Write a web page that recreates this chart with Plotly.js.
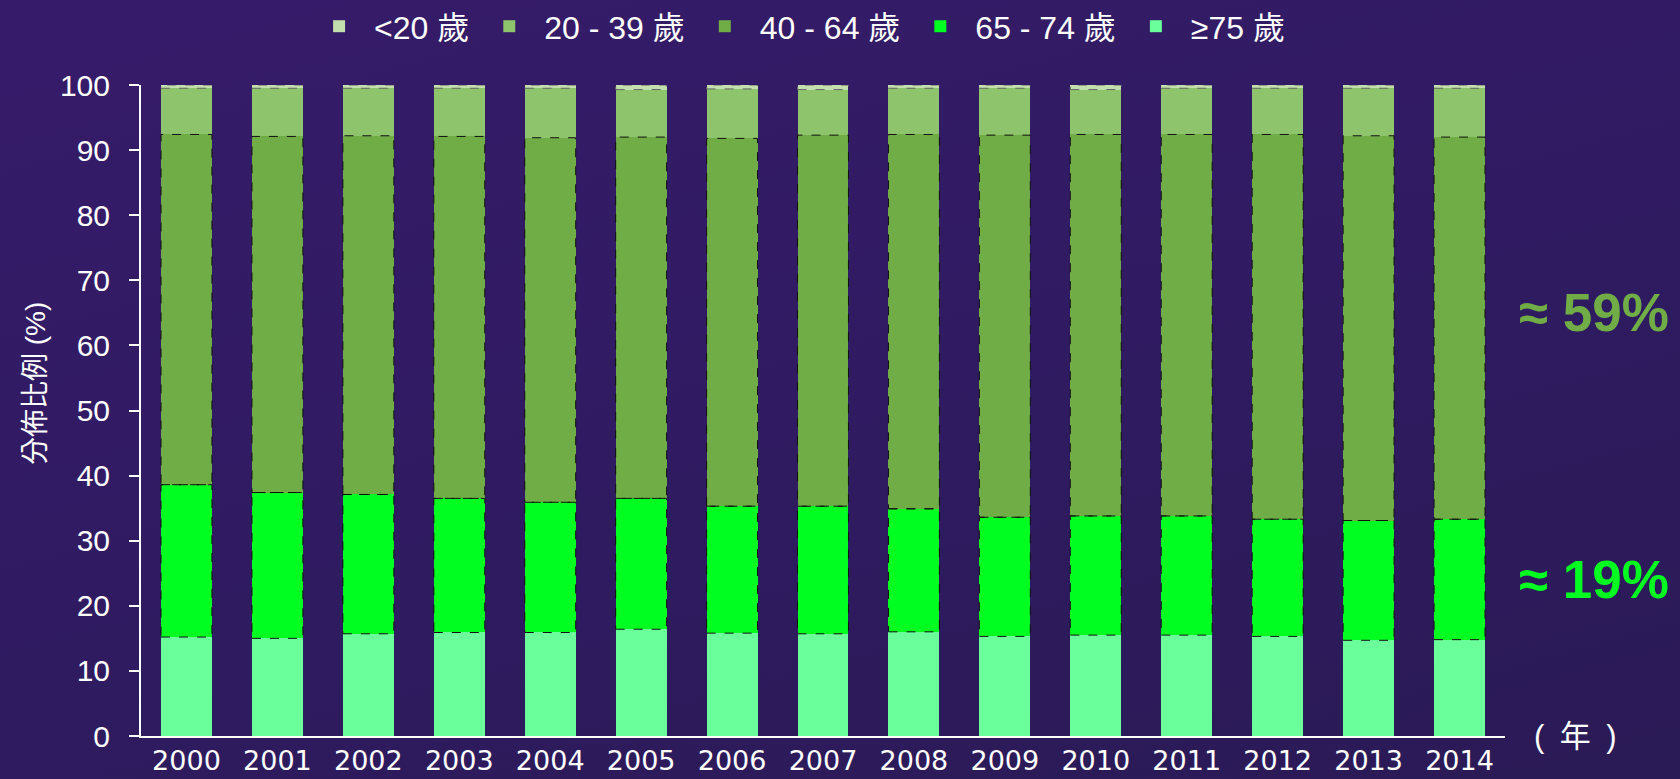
<!DOCTYPE html>
<html>
<head>
<meta charset="utf-8">
<script src="https://cdn.plot.ly/plotly-3.0.1.min.js"></script>
<style>
  html, body { margin: 0; padding: 0; width: 1680px; height: 779px; overflow: hidden;
    background: linear-gradient(165deg, #361b6a 0%, #301b62 50%, #2a1a55 100%); }
  #chart { width: 1680px; height: 779px; }
</style>
</head>
<body>
<div id="chart"></div>
<script>
// ---- data ----
const years = [2000, 2001, 2002, 2003, 2004, 2005, 2006, 2007, 2008, 2009, 2010, 2011, 2012, 2013, 2014];
const yearLabels = ["2000","2001","2002","2003","2004","2005","2006","2007","2008","2009","2010","2011","2012","2013","2014"];
const age75plus = [15.2, 15.0, 15.7, 15.9, 15.9, 16.4, 15.8, 15.7, 16.0, 15.3, 15.5, 15.5, 15.3, 14.7, 14.8];
const age65to74 = [23.4, 22.4, 21.4, 20.6, 20.0, 20.1, 19.5, 19.6, 18.9, 18.3, 18.3, 18.3, 18.0, 18.4, 18.5];
const age40to64 = [53.8, 54.7, 55.1, 55.6, 56.0, 55.5, 56.5, 57.0, 57.5, 58.7, 58.6, 58.6, 59.1, 59.1, 58.7];
const age20to39 = [7.1, 7.4, 7.3, 7.4, 7.6, 7.3, 7.6, 7.0, 7.1, 7.2, 6.9, 7.1, 7.1, 7.3, 7.5];
const under20   = [0.5, 0.5, 0.5, 0.5, 0.5, 0.7, 0.6, 0.7, 0.5, 0.5, 0.7, 0.5, 0.5, 0.5, 0.5];
const seriesNames = ["≥75 歲", "65 - 74 歲", "40 - 64 歲", "20 - 39 歲", "<20 歲"];
const noteTexts = ["≈ 59%", "≈ 19%"];

// ---- styling ----
const FONT = "'Liberation Sans', Arial, 'Noto Sans CJK TC', sans-serif";
const XFONT = "'DejaVu Sans', 'Liberation Sans', Arial, sans-serif";
const colors = ["#6bff9b", "#00ff21", "#70ad47", "#8ec46b", "#c3dfae"];
const barWidth = 0.56;

const series = [age75plus, age65to74, age40to64, age20to39, under20];
const traces = series.map((vals, k) => ({
  type: "bar",
  name: seriesNames[k],
  x: years,
  y: vals,
  width: barWidth,
  marker: { color: colors[k], line: { width: 0 } },
  hoverinfo: "skip"
}));

// dashed outlines around the 65-74, 40-64 and <20 segments (computed from data)
function outlines(lowerArrs, segArr) {
  const xs = [], ys = [];
  years.forEach((yr, i) => {
    let b = 0;
    lowerArrs.forEach(a => { b += a[i]; });
    const t = b + segArr[i];
    const l = yr - barWidth / 2, r = yr + barWidth / 2;
    xs.push(l, r, r, l, l, null);
    ys.push(b, b, t, t, b, null);
  });
  return { xs, ys };
}
const o1 = outlines([age75plus], age65to74);
const o2 = outlines([age75plus, age65to74], age40to64);
const o3 = outlines([age75plus, age65to74, age40to64, age20to39], under20);
traces.push({
  type: "scatter", mode: "lines", x: o1.xs.concat(o2.xs), y: o1.ys.concat(o2.ys),
  line: { color: "#111111", width: 1, dash: "dash" }, showlegend: false, hoverinfo: "skip"
});
traces.push({
  type: "scatter", mode: "lines", x: o3.xs, y: o3.ys,
  line: { color: "#666666", width: 1, dash: "dash" }, showlegend: false, hoverinfo: "skip"
});

const layout = {
  width: 1680, height: 779,
  paper_bgcolor: "rgba(0,0,0,0)",
  plot_bgcolor: "rgba(0,0,0,0)",
  margin: { l: 141, r: 175, t: 85, b: 43, pad: 0, autoexpand: false },
  barmode: "stack",
  bargap: 0.44,
  font: { family: FONT, color: "#ffffff", size: 28 },
  showlegend: true,
  legend: {
    orientation: "h", traceorder: "reversed",
    x: 0.481, xanchor: "center", y: 1.09, yanchor: "middle",
    itemwidth: 60,
    font: { family: FONT, size: 32, color: "#ffffff" },
    bgcolor: "rgba(0,0,0,0)", itemclick: false
  },
  xaxis: {
    type: "linear", range: [1999.5, 2014.5],
    tickvals: years, ticktext: yearLabels,
    ticks: "", showgrid: false, zeroline: false,
    showline: true, linecolor: "#ffffff", linewidth: 2,
    tickfont: { family: XFONT, size: 27, color: "#ffffff" },
    ticklabelstandoff: 0,
    fixedrange: true
  },
  yaxis: {
    range: [0, 100], tickvals: [0,10,20,30,40,50,60,70,80,90,100],
    ticks: "outside", ticklen: 10, tickwidth: 2, tickcolor: "#ffffff",
    showgrid: false, zeroline: false,
    showline: true, linecolor: "#ffffff", linewidth: 2,
    tickfont: { family: FONT, size: 30, color: "#ffffff" },
    ticklabelstandoff: 13,
    fixedrange: true
  },
  annotations: [
    { text: "分佈比例 (%)", xref: "paper", yref: "paper", x: -0.0777, y: 0.5407,
      xanchor: "center", yanchor: "middle", textangle: -90, showarrow: false,
      font: { family: FONT, size: 28, color: "#ffffff" } },
    { text: "(\u2002年\u2002)", xref: "paper", yref: "paper", x: 1.0195, y: 0,
      xanchor: "left", yanchor: "middle", showarrow: false,
      font: { family: FONT, size: 31, color: "#ffffff" } },
    { text: "<b>" + noteTexts[0] + "</b>", xref: "paper", yref: "y", x: 1.0088, y: 65,
      xanchor: "left", yanchor: "middle", showarrow: false,
      font: { family: FONT, size: 53, color: "#70ad47" } },
    { text: "<b>" + noteTexts[1] + "</b>", xref: "paper", yref: "y", x: 1.0088, y: 24.1,
      xanchor: "left", yanchor: "middle", showarrow: false,
      font: { family: FONT, size: 53, color: "#00ff21" } }
  ]
};

Plotly.newPlot("chart", traces, layout, { displayModeBar: false, staticPlot: true });
</script>
</body>
</html>
